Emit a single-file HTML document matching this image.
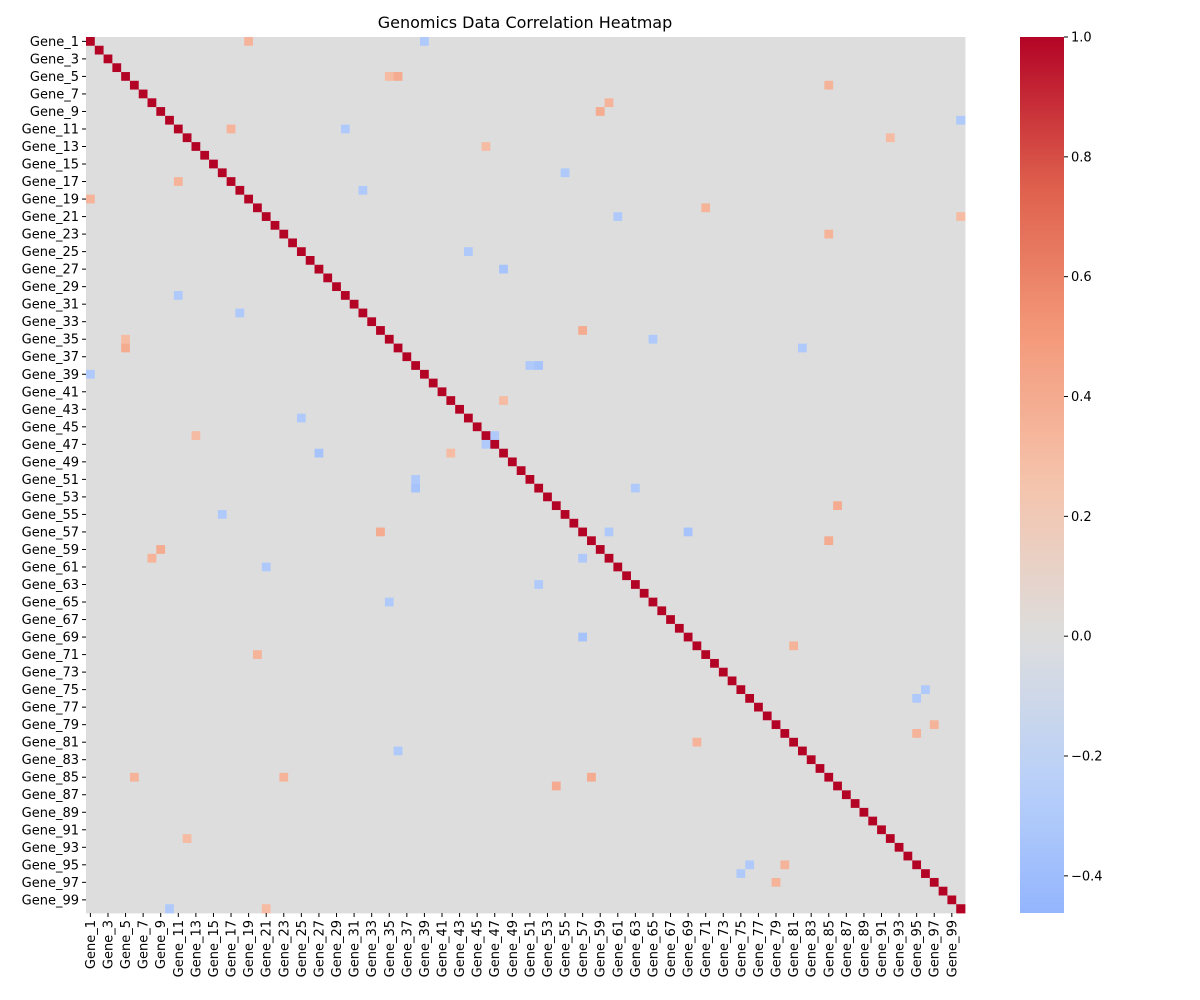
<!DOCTYPE html>
<html><head><meta charset="utf-8"><style>
html,body{margin:0;padding:0;background:#fff;}
svg{display:block;font-family:"DejaVu Sans","Liberation Sans",sans-serif;}
</style></head><body>
<svg id="chart" width="1200" height="1000"></svg>
<script>
const genes = [];
for (let i = 1; i <= 100; i++) genes.push('Gene_' + i);
// notable off-diagonal correlations: [row, col, value]
const strongCells = [
  [0,18,0.35],[0,38,-0.3],[4,35,0.4],[4,34,0.3],[10,29,-0.3],[11,91,0.4],[8,58,0.4],
  [7,59,0.35],[15,54,-0.3],[16,10,0.35],[19,70,0.35],[24,43,-0.3],[33,56,0.4],[37,51,-0.35],
  [46,45,-0.3],[50,37,-0.3],[53,85,0.4],[56,68,-0.35],[56,59,-0.3],[60,20,-0.3],[62,51,-0.3],
  [69,80,0.35],[74,95,-0.3],[78,96,0.35],[81,35,-0.3],[84,57,0.4],[84,5,0.35],[91,11,0.3],
  [94,75,-0.3],[94,79,0.35],[9,99,-0.3],[31,17,-0.3],[26,47,-0.35],[41,47,0.3],[22,84,0.35],
  [12,45,0.3],[64,34,-0.3],[20,99,0.3]
];
const cbTicks = [1.0,0.8,0.6,0.4,0.2,0.0,-0.2,-0.4];
const vmin = -0.462, vmax = 1.0;

const NS='http://www.w3.org/2000/svg';
const svg=document.getElementById('chart');
function mk(t,a,p){const e=document.createElementNS(NS,t);for(const k in a)e.setAttribute(k,a[k]);(p||svg).appendChild(e);return e;}
const stops=[[0,59,76,192],[0.125,98,130,234],[0.25,141,176,254],[0.375,184,208,249],[0.5,221,221,221],[0.625,245,196,173],[0.75,244,154,123],[0.875,222,96,77],[1,180,4,38]];
function cmap(v){let t=(v+1)/2;t=Math.max(0,Math.min(1,t));
  for(let i=1;i<stops.length;i++){if(t<=stops[i][0]){const a=stops[i-1],b=stops[i],f=(t-a[0])/(b[0]-a[0]);
    return 'rgb('+[1,2,3].map(k=>Math.round(a[k]+(b[k]-a[k])*f)).join(',')+')';}}return 'rgb(180,4,38)';}
const L=86,R=965,T=37,B=913,n=genes.length,cw=(R-L)/n,ch=(B-T)/n;
const xS=i=>L+i*cw, yS=i=>T+i*ch;
const M=[];for(let i=0;i<n;i++){M.push(new Array(n).fill(0));M[i][i]=1;}
strongCells.forEach(([r,c,v])=>{M[r][c]=v;M[c][r]=v;});
const g=mk('g',{});


for(let i=0;i<n;i++)for(let j=0;j<n;j++){
  const r=mk('rect',{x:xS(j),y:yS(i),width:cw+0.4,height:ch+0.4,fill:cmap(M[i][j])},g);
  
  
}
const title=mk('text',{x:525,y:28,'text-anchor':'middle','font-size':16});
title.textContent='Genomics Data Correlation Heatmap';


for(let i=0;i<n;i+=2){
  const y=yS(i)+ch/2;
  mk('line',{x1:L-4,x2:L,y1:y,y2:y,stroke:'#000'});
  const t=mk('text',{x:L-7,y:y+4.5,'text-anchor':'end','font-size':13});
  t.textContent=genes[i];
  
  
  const x=xS(i)+cw/2;
  mk('line',{x1:x,x2:x,y1:B,y2:B+4,stroke:'#000'});
  const tx=mk('text',{x:0,y:0,'text-anchor':'end','font-size':13,transform:'translate('+(x+4.5)+','+(B+7)+') rotate(-90)'});
  tx.textContent=genes[i];
  
  
}
// colorbar
const defs=mk('defs',{});const lg=mk('linearGradient',{id:'cb',x1:0,y1:0,x2:0,y2:1},defs);
for(let k=0;k<=40;k++){const v=vmax-(vmax-vmin)*k/40;mk('stop',{offset:k/40,'stop-color':cmap(v)},lg);}
const cbT=37,cbB=913,cbX=1020,cbW=44;
const cy=v=>cbT+(vmax-v)/(vmax-vmin)*(cbB-cbT);
const cb=mk('rect',{x:cbX,y:cbT,width:cbW,height:cbB-cbT,fill:'url(#cb)'});


cbTicks.forEach(v=>{const y=cy(v);
  mk('line',{x1:cbX+cbW,x2:cbX+cbW+4,y1:y,y2:y,stroke:'#000'});
  const t=mk('text',{x:cbX+cbW+7,y:y+4.5,'font-size':13});
  t.textContent=(v<0?'\u2212':'')+Math.abs(v).toFixed(1);
  
  
});
</script>
</body></html>
